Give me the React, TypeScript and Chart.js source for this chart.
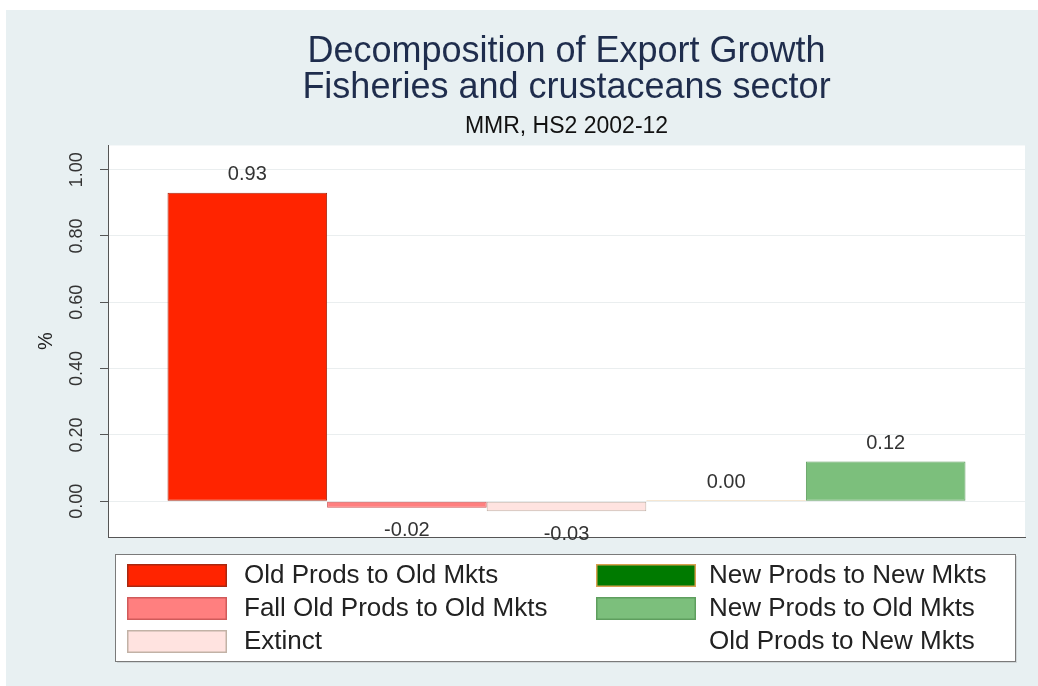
import { useEffect, useRef } from 'react';
import { Chart, registerables } from 'chart.js';

Chart.register(...registerables);

const categories = [''];
const seriesLabels = [
  'Old Prods to Old Mkts',
  'Fall Old Prods to Old Mkts',
  'Extinct',
  'New Prods to New Mkts',
  'New Prods to Old Mkts',
  'Old Prods to New Mkts',
];
const seriesValues: (number | null)[] = [0.93, -0.02, -0.03, 0.003, 0.12, null];
const fillColors = ['#FF2400', '#FF7F7F', '#FFE3E0', '#007A00', '#7CBF7C', 'rgba(255,255,255,0)'];
const edgeColors = ['#A82810', '#D05A5A', '#C2B2A6', '#D8A050', '#5E9E5E', 'rgba(255,255,255,0)'];
const yTicks = [0, 0.2, 0.4, 0.6, 0.8, 1.0];
const titleLines = ['Decomposition of Export Growth', 'Fisheries and crustaceans sector'];
const subtitleText = 'MMR, HS2 2002-12';
const yAxisTitle = '%';

const FONT = '"Liberation Sans", Arial, Helvetica, sans-serif';

const backgroundPlugin = {
  id: 'stataBackground',
  beforeDraw(chart: any) {
    const { ctx, chartArea } = chart;
    ctx.save();
    ctx.fillStyle = '#ffffff';
    ctx.fillRect(0, 0, chart.width, chart.height);
    ctx.fillStyle = '#E8F0F2';
    ctx.fillRect(6, 10, chart.width - 6, chart.height - 10);
    ctx.fillStyle = '#ffffff';
    ctx.fillRect(chartArea.left, chartArea.top, chartArea.right - chartArea.left, chartArea.bottom - chartArea.top);
    ctx.restore();
  },
};

const valueLabelPlugin = {
  id: 'valueLabels',
  afterDatasetsDraw(chart: any) {
    const { ctx } = chart;
    ctx.save();
    ctx.font = `20px ${FONT}`;
    ctx.fillStyle = '#333333';
    ctx.textAlign = 'center';
    ctx.textBaseline = 'middle';
    chart.data.datasets.forEach((ds: any, i: number) => {
      const meta = chart.getDatasetMeta(i);
      meta.data.forEach((el: any, j: number) => {
        const v = ds.data[j];
        if (v === null || v === undefined) return;
        const y = v >= 0 ? el.y - 18 : el.y + 23;
        ctx.fillText(Number(v).toFixed(2), el.x, y);
      });
    });
    ctx.restore();
  },
};

const legendPlugin = {
  id: 'stataLegend',
  afterDraw(chart: any) {
    const { ctx } = chart;
    const bx = 115;
    const by = 554;
    const bw = 900;
    const bh = 107;
    ctx.save();
    ctx.fillStyle = 'rgba(0,0,0,0.10)';
    ctx.fillRect(bx + 2, by + 2, bw, bh);
    ctx.fillStyle = '#ffffff';
    ctx.fillRect(bx, by, bw, bh);
    ctx.strokeStyle = '#7A7A7A';
    ctx.lineWidth = 1;
    ctx.strokeRect(bx + 0.5, by + 0.5, bw, bh);
    ctx.font = `26px ${FONT}`;
    ctx.textAlign = 'left';
    ctx.textBaseline = 'middle';
    chart.data.datasets.forEach((ds: any, i: number) => {
      const col = Math.floor(i / 3);
      const row = i % 3;
      const sx = col ? 596 : 127;
      const sy = 564 + row * 33;
      ctx.fillStyle = ds.backgroundColor;
      ctx.fillRect(sx, sy, 100, 23);
      ctx.strokeStyle = ds.borderColor;
      ctx.lineWidth = 1.5;
      ctx.strokeRect(sx + 0.75, sy + 0.75, 98.5, 21.5);
      ctx.fillStyle = '#222222';
      ctx.fillText(ds.label, col ? 709 : 244, sy + 12);
    });
    ctx.restore();
  },
};

export default function App() {
  const canvasRef = useRef<HTMLCanvasElement | null>(null);

  useEffect(() => {
    if (!canvasRef.current) return;
    const chart = new Chart(canvasRef.current, {
      type: 'bar',
      data: {
        labels: categories,
        datasets: seriesLabels.map((label, i) => ({
          label,
          data: [seriesValues[i]],
          backgroundColor: fillColors[i],
          borderColor: edgeColors[i],
          borderWidth: 1,
          borderSkipped: false,
          skipNull: true,
          categoryPercentage: 0.8702,
          barPercentage: 1.0,
        })),
      },
      options: {
        responsive: false,
        animation: false,
        devicePixelRatio: 1,
        layout: { padding: { top: 24, bottom: 149, left: 0, right: 13 } },
        plugins: {
          legend: { display: false },
          tooltip: { enabled: false },
          title: {
            display: true,
            text: titleLines,
            fullSize: false,
            color: '#1F2D4D',
            font: { family: FONT, size: 36, weight: 'normal', lineHeight: 1.0 },
            padding: { top: 10, bottom: 6 },
          },
          subtitle: {
            display: true,
            text: subtitleText,
            fullSize: false,
            color: '#111111',
            font: { family: FONT, size: 23, weight: 'normal', lineHeight: 1.15 },
            padding: { top: 1, bottom: 6 },
          },
        },
        scales: {
          x: {
            type: 'category',
            grid: { display: false, drawTicks: false },
            ticks: { display: false },
            border: { display: true, color: '#555555', width: 1 },
            afterFit: (s: any) => {
              s.height = 0;
            },
          },
          y: {
            type: 'linear',
            min: -0.108,
            max: 1.073,
            afterBuildTicks: (s: any) => {
              s.ticks = yTicks.map((v) => ({ value: v }));
            },
            afterFit: (s: any) => {
              s.width = 108;
            },
            grid: {
              color: '#EAEEEF',
              lineWidth: 1,
              drawTicks: true,
              tickLength: 8,
              tickColor: '#555555',
            },
            border: { display: true, color: '#555555', width: 1 },
            ticks: {
              minRotation: 90,
              maxRotation: 90,
              crossAlign: 'center',
              padding: 5,
              color: '#333333',
              font: { family: FONT, size: 18 },
              callback: (v: any) => Number(v).toFixed(2),
            },
            title: {
              display: true,
              text: yAxisTitle,
              color: '#222222',
              font: { family: FONT, size: 20 },
              padding: { top: 34, bottom: 0 },
            },
          },
        },
      },
      plugins: [backgroundPlugin, valueLabelPlugin, legendPlugin],
    } as any);
    return () => chart.destroy();
  }, []);

  return (
    <div style={{ position: 'fixed', left: 0, top: 0, width: 1038, height: 686, background: '#ffffff' }}>
      <canvas ref={canvasRef} width={1038} height={686} style={{ display: 'block', width: 1038, height: 686 }} />
    </div>
  );
}
